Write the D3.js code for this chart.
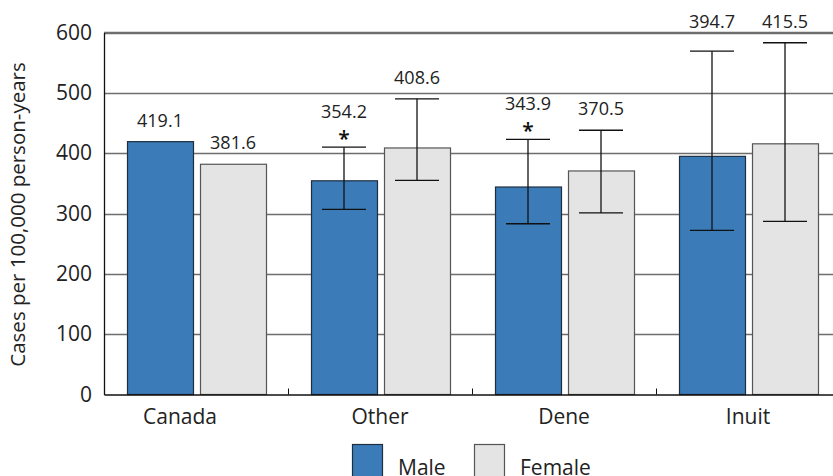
<!DOCTYPE html>
<html>
<head>
<meta charset="utf-8">
<script src="https://cdn.jsdelivr.net/npm/d3@7"></script>
<style>
  html, body { margin: 0; padding: 0; background: #fff; }
  svg { display: block; font-family: "Open Sans", sans-serif; }
</style>
</head>
<body>
<svg id="chart" width="833" height="476"></svg>
<script>
// Incidence by group and sex
const categories = ["Canada", "Other", "Dene", "Inuit"];
const series = ["Male", "Female"];
const maleValues   = [419.1, 354.2, 343.9, 394.7];
const femaleValues = [381.6, 408.6, 370.5, 415.5];
// 95% confidence limits (null where none shown)
const maleLower   = [null, 307, 283, 272];
const maleUpper   = [null, 410, 423, 569];
const femaleLower = [null, 355, 301, 287];
const femaleUpper = [null, 490, 438, 583];
// significant difference markers
const maleStar   = [false, true, true, false];
const femaleStar = [false, false, false, false];
const yTicks = [0, 100, 200, 300, 400, 500, 600];

const colors = { Male: "#3b7bb8", Female: "#e4e4e4" };
const strokes = { Male: "#1f2f40", Female: "#555555" };

const rows = [];
categories.forEach((c, i) => {
  rows.push({ cat: c, s: "Male", v: maleValues[i], lo: maleLower[i], hi: maleUpper[i], star: maleStar[i] });
  rows.push({ cat: c, s: "Female", v: femaleValues[i], lo: femaleLower[i], hi: femaleUpper[i], star: femaleStar[i] });
});

const svg = d3.select("#chart");
const m = { left: 104, right: 840, top: 32.5, bottom: 394.5 };

const x0 = d3.scaleBand().domain(categories).range([m.left, m.right]).paddingInner(0).paddingOuter(0);
const x1 = d3.scaleBand().domain(series).range([23, x0.bandwidth() - 22]).paddingInner(0.096);
const y = d3.scaleLinear().domain([0, 600]).range([m.bottom, m.top]);

// grid lines
svg.append("g").selectAll("line").data(yTicks.filter(t => t > 0)).join("line")
  .attr("x1", m.left).attr("x2", m.right)
  .attr("y1", d => Math.round(y(d)) + 0.5).attr("y2", d => Math.round(y(d)) + 0.5)
  .attr("stroke", "#6e6e6e").attr("stroke-width", 1.3);

// bars
svg.append("g").selectAll("rect").data(rows).join("rect")
  .attr("x", d => Math.round(x0(d.cat) + x1(d.s)) + 0.5)
  .attr("y", d => y(d.v))
  .attr("width", Math.round(x1.bandwidth()))
  .attr("height", d => m.bottom - y(d.v))
  .attr("fill", d => colors[d.s])
  .attr("stroke", d => strokes[d.s])
  .attr("stroke-width", 1.2);

// error bars
const eb = rows.filter(d => d.lo != null);
const cx = d => x0(d.cat) + x1(d.s) + x1.bandwidth() / 2;
const capW = 22;
const eg = svg.append("g").attr("stroke", "#111").attr("stroke-width", 1.3);
eg.selectAll("line.v").data(eb).join("line").attr("class", "v")
  .attr("x1", cx).attr("x2", cx).attr("y1", d => y(d.lo)).attr("y2", d => y(d.hi));
eg.selectAll("line.t").data(eb).join("line").attr("class", "t")
  .attr("x1", d => cx(d) - capW).attr("x2", d => cx(d) + capW)
  .attr("y1", d => y(d.hi)).attr("y2", d => y(d.hi));
eg.selectAll("line.b").data(eb).join("line").attr("class", "b")
  .attr("x1", d => cx(d) - capW).attr("x2", d => cx(d) + capW)
  .attr("y1", d => y(d.lo)).attr("y2", d => y(d.lo));

// value labels (above the bar or the upper limit, lifted over the frame if they would cross it)
const labelY = d => {
  const top = y(d.hi != null ? d.hi : d.v);
  let b = top - 15 - (d.star ? 14 : 0);
  if (b > m.top - 4 && b - 13 < m.top + 2) b = m.top - 5;
  return b;
};
svg.append("g").selectAll("text").data(rows).join("text")
  .attr("x", cx).attr("y", labelY)
  .attr("text-anchor", "middle").attr("font-size", 18).attr("fill", "#222")
  .text(d => d.v.toFixed(1));
svg.append("g").selectAll("text").data(rows.filter(d => d.star)).join("text")
  .attr("x", cx).attr("y", d => y(d.hi) - 1)
  .attr("text-anchor", "middle").attr("font-size", 21).attr("font-weight", 600).attr("fill", "#111")
  .text("*");

// frame top line
svg.append("line").attr("x1", m.left).attr("x2", m.right)
  .attr("y1", m.top).attr("y2", m.top).attr("stroke", "#6e6e6e").attr("stroke-width", 1.3);

// y axis
const yAxis = d3.axisLeft(y).tickValues(yTicks).tickSize(0).tickPadding(12);
const ga = svg.append("g").attr("transform", `translate(${m.left},0)`).call(yAxis);
ga.select(".domain").attr("stroke", "#111").attr("stroke-width", 1.3);
ga.selectAll("text").attr("font-size", 21).attr("fill", "#222").attr("font-family", "Open Sans");

// x axis
const xAxis = d3.axisBottom(x0).tickSize(0).tickPadding(12);
const gx = svg.append("g").attr("transform", `translate(0,${m.bottom})`).call(xAxis);
gx.select(".domain").attr("stroke", "#111").attr("stroke-width", 1.3);
gx.selectAll("text").attr("font-size", 21).attr("fill", "#222").attr("font-family", "Open Sans")
  .attr("dy", "0.85em")
  .attr("dx", (d, i) => i === 0 ? -16 : 0);
// short inner ticks between groups
svg.append("g").selectAll("line").data(categories.slice(1)).join("line")
  .attr("x1", d => x0(d) + 0.5).attr("x2", d => x0(d) + 0.5)
  .attr("y1", m.bottom).attr("y2", m.bottom - 6)
  .attr("stroke", "#111").attr("stroke-width", 1);

// y axis title
svg.append("text")
  .attr("transform", `translate(25,${(m.top + m.bottom) / 2 + 1}) rotate(-90)`)
  .attr("text-anchor", "middle").attr("font-size", 20.5).attr("fill", "#222")
  .text("Cases per 100,000 person-years");

// legend
const leg = svg.append("g");
const legX = [352, 474];
series.forEach((s, i) => {
  leg.append("rect").attr("x", legX[i] + 0.5).attr("y", 444.5).attr("width", 30).attr("height", 34)
    .attr("fill", colors[s]).attr("stroke", strokes[s]).attr("stroke-width", 1.2);
  leg.append("text").attr("x", legX[i] + 46).attr("y", 475).attr("font-size", 21).attr("fill", "#222").text(s);
});
</script>
</body>
</html>
